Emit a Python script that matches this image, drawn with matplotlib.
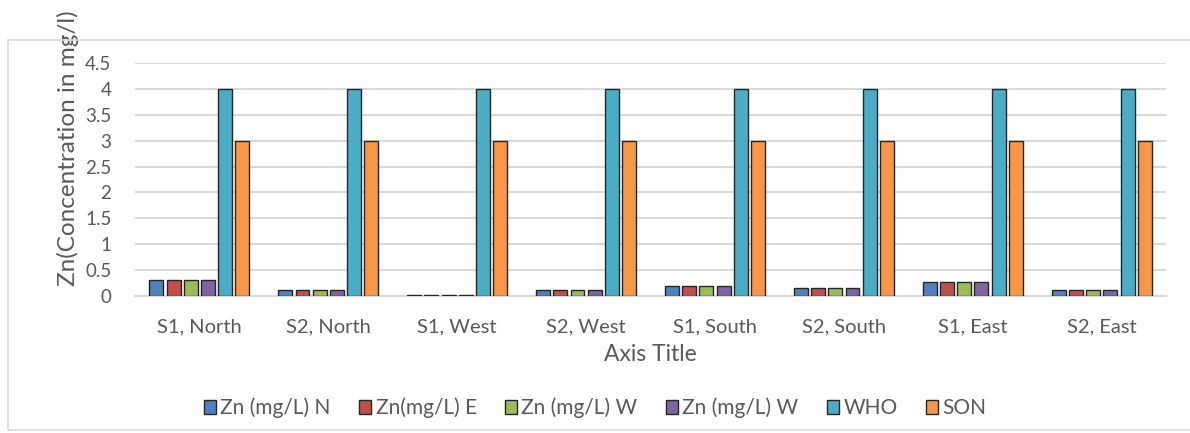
import numpy as np
import matplotlib.pyplot as plt
from matplotlib.patches import Rectangle

plt.rcParams['font.family'] = ['Lato', 'DejaVu Sans']

# data
sites = ['S1, North', 'S2, North', 'S1, West', 'S2, West',
         'S1, South', 'S2, South', 'S1, East', 'S2, East']
zn_n = [0.30, 0.12, 0.01, 0.11, 0.19, 0.15, 0.27, 0.11]
zn_e = [0.30, 0.12, 0.01, 0.11, 0.19, 0.15, 0.27, 0.11]
zn_w = [0.30, 0.12, 0.01, 0.11, 0.19, 0.15, 0.27, 0.11]
zn_w2 = [0.30, 0.12, 0.01, 0.11, 0.19, 0.15, 0.27, 0.11]
who = [4, 4, 4, 4, 4, 4, 4, 4]
son = [3, 3, 3, 3, 3, 3, 3, 3]

series = [zn_n, zn_e, zn_w, zn_w2, who, son]
names = ['Zn (mg/L) N', 'Zn(mg/L) E', 'Zn (mg/L) W', 'Zn (mg/L) W', 'WHO', 'SON']
colors = ['#4F81BD', '#C0504D', '#9BBB59', '#8064A2', '#4BACC6', '#F79646']

fig = plt.figure(figsize=(11.9, 4.33), dpi=100)
ax = fig.add_axes([0.1134, 0.3164, 0.8666, 0.5381])

# outer chart border (runs off the right edge)
fig.patches.append(Rectangle((8 / 1190, 3 / 433), 1200 / 1190, 390 / 433,
                             transform=fig.transFigure, fill=False,
                             edgecolor='#D9D9D9', linewidth=1.2))

x = np.arange(len(sites))
step = 0.1335
width = 0.108
for i, (vals, name, c) in enumerate(zip(series, names, colors)):
    off = (i - 2.5) * step
    ax.bar(x + off, vals, width, color=c, edgecolor='#262626',
           linewidth=1.0, label=name, zorder=3)

ax.set_xlim(-0.5, len(sites) - 0.5)
ax.set_ylim(0, 4.5)
ax.set_yticks(np.arange(0, 4.51, 0.5))
ax.set_yticklabels(['0', '0.5', '1', '1.5', '2', '2.5', '3', '3.5', '4', '4.5'])
ax.set_xticks(x)
ax.set_xticklabels(sites)
ax.grid(axis='y', color='#D9D9D9', linewidth=1.5, zorder=0)
ax.set_axisbelow(True)
for s in ['top', 'right', 'left']:
    ax.spines[s].set_visible(False)
ax.spines['bottom'].set_color('#D9D9D9')
ax.spines['bottom'].set_linewidth(1.5)
ax.tick_params(axis='both', length=0, labelsize=13.5, colors='#595959')
ax.tick_params(axis='x', pad=16, labelsize=14.5)
ax.tick_params(axis='y', pad=17)

ax.set_xlabel('Axis Title', fontsize=16.5, color='#595959', labelpad=6)
ax.set_ylabel('Zn(Concentration in mg/l)', fontsize=17.5, color='#595959')
ax.yaxis.set_label_coords(-0.054, 0.635)

fig.legend(loc='center', bbox_to_anchor=(0.5, (433 - 408) / 433),
           ncol=6, frameon=False, fontsize=15, labelcolor='#595959',
           handlelength=0.6, handleheight=0.6, handletextpad=0.2,
           columnspacing=1.35)

fig.savefig('out.png', dpi=100)
